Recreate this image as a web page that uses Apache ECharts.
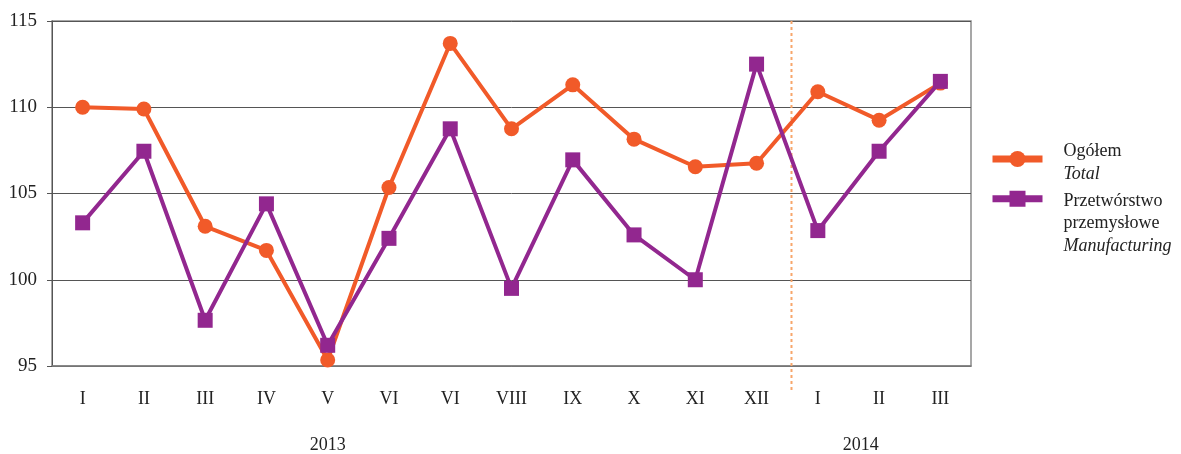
<!DOCTYPE html>
<html><head><meta charset="utf-8">
<script src="https://cdn.jsdelivr.net/npm/echarts@6/dist/echarts.min.js"></script>
<style>html,body{margin:0;padding:0;background:#fff}#c{width:1181px;height:454px}</style>
</head><body><div id="c"></div>
<script>
const months = ['I','II','III','IV','V','VI','VI','VIII','IX','X','XI','XII','I','II','III'];
const years = [{label:'2013', at:4.0}, {label:'2014', at:12.7}];
const totalName = 'Ogółem';
const totalSub = 'Total';
const manuName = 'Przetwórstwo';
const manuName2 = 'przemysłowe';
const manuSub = 'Manufacturing';
const total = [110.0, 109.9, 103.1, 101.7, 95.35, 105.35, 113.7, 108.75, 111.3, 108.15, 106.55, 106.75, 110.9, 109.25, 111.4];
const manufacturing = [103.3, 107.45, 97.65, 104.4, 96.2, 102.4, 108.75, 99.5, 106.95, 102.6, 100.0, 112.5, 102.85, 107.45, 111.5];
const yTicks = [95, 100, 105, 110, 115];

const FONT = '"Liberation Serif", "DejaVu Serif", serif';
const ORANGE = '#F15A29';
const PURPLE = '#92278F';
const chart = echarts.init(document.getElementById('c'));
const option = {
  animation: false,
  grid: {left: 52, right: 210, top: 21, bottom: 88, show: true, borderColor: '#8a8a8a', borderWidth: 1.5, backgroundColor: 'transparent'},
  xAxis: [{
    type: 'category', data: months, boundaryGap: true,
    axisLine: {show: true, lineStyle: {color: '#808080', width: 1.5}},
    axisTick: {show: false},
    axisLabel: {color: '#222', fontFamily: FONT, fontSize: 18, margin: 24, interval: 0},
    splitLine: {show: false}
  }],
  yAxis: {
    type: 'value', min: 95, max: 115, interval: 5,
    axisLine: {show: true, lineStyle: {color: '#555', width: 1}},
    axisTick: {show: true, inside: false, length: 5, lineStyle: {color: '#555'}},
    axisLabel: {color: '#222', fontFamily: FONT, fontSize: 19, margin: 15,
      formatter: v => yTicks.includes(v) ? String(v) : ''},
    splitLine: {show: true, lineStyle: {color: '#555', width: 1}}
  },
  legend: [{
    orient: 'vertical', left: 989, top: 136, padding: 0,
    itemWidth: 50, itemHeight: 20,
    lineStyle: {width: 7},
    data: [totalName],
    formatter: () => totalName + '\n{i|' + totalSub + '}',
    textStyle: {fontFamily: FONT, fontSize: 18, color: '#222', lineHeight: 30, padding: [0,0,0,16],
      rich: {i: {fontStyle: 'italic', fontFamily: FONT, fontSize: 18, lineHeight: 16, color: '#222'}}}
  }, {
    orient: 'vertical', left: 989, top: 140, padding: 0,
    itemWidth: 50, itemHeight: 20,
    lineStyle: {width: 7},
    data: [manuName],
    formatter: () => manuName + '\n' + manuName2 + '\n{i|' + manuSub + '}',
    textStyle: {fontFamily: FONT, fontSize: 18, color: '#222', lineHeight: 22.5, padding: [50,0,0,16],
      rich: {i: {fontStyle: 'italic', fontFamily: FONT, fontSize: 18, lineHeight: 22.5, color: '#222'}}}
  }],
  series: [{
    name: totalName, type: 'line', data: total,
    symbol: 'circle', symbolSize: 15,
    lineStyle: {color: ORANGE, width: 4},
    itemStyle: {color: ORANGE},
    z: 3
  }, {
    name: manuName, type: 'line', data: manufacturing,
    symbol: 'rect', symbolSize: 15,
    lineStyle: {color: PURPLE, width: 4},
    itemStyle: {color: PURPLE},
    z: 4
  }]
};
chart.setOption(option);

// dividing line between years and year labels, positioned via axis scale
const xA = chart.convertToPixel({xAxisIndex: 0}, 11);
const xB = chart.convertToPixel({xAxisIndex: 0}, 12);
const xDiv = xA + (xB - xA) * 0.57;
const yTop = chart.convertToPixel({yAxisIndex: 0}, 115);
const yBot = chart.convertToPixel({yAxisIndex: 0}, 95);
const step = xB - xA;
const x0 = chart.convertToPixel({xAxisIndex: 0}, 0);
const graphics = [{
  type: 'line', shape: {x1: xDiv, y1: yTop, x2: xDiv, y2: yBot + 26},
  style: {stroke: '#F7A66B', lineWidth: 2, lineDash: [3, 3]}, z: 1
}];
years.forEach(y => {
  graphics.push({type: 'text', x: x0 + step * y.at, y: yBot + 79,
    style: {text: y.label, fontFamily: FONT, fontSize: 18, fill: '#222', align: 'center', verticalAlign: 'middle'}});
});
chart.setOption({graphic: graphics});
</script></body></html>
